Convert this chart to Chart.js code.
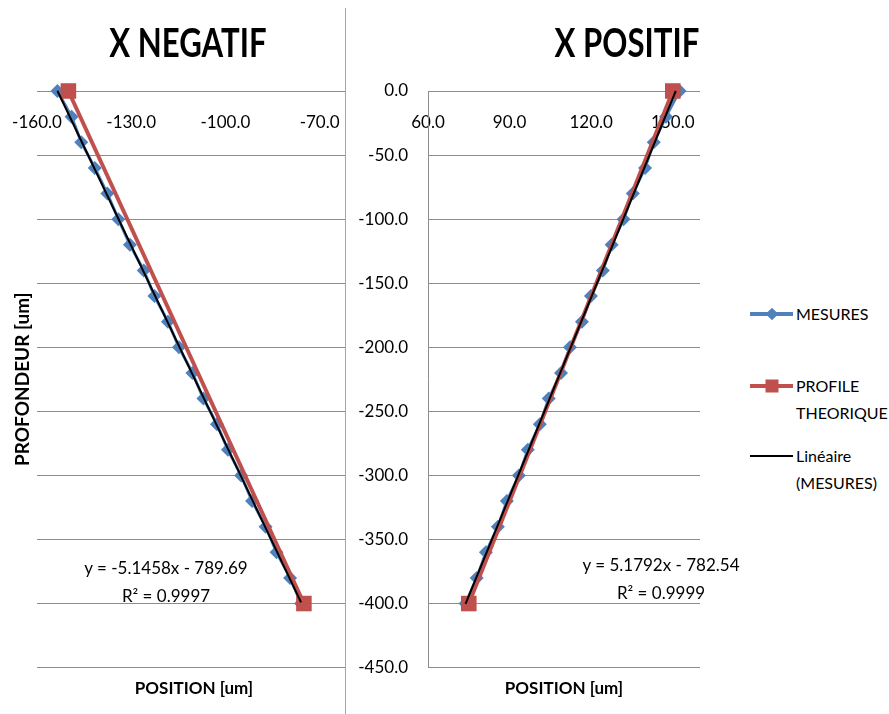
<!DOCTYPE html>
<html>
<head>
<meta charset="utf-8">
<script src="https://cdn.jsdelivr.net/npm/chart.js@4.4.0/dist/chart.umd.min.js"></script>
<style>
  body { margin: 0; background: #fff; width: 889px; height: 714px; overflow: hidden; position: relative; font-family: Lato, sans-serif; }
  .wrap { position: absolute; top: 0; height: 714px; }
  #wrapL { left: 0; width: 351px; }
  #wrapR { left: 346px; width: 354px; background: #fff; }
  #sep { position: absolute; left: 345px; top: 8px; width: 1px; height: 706px; background: #a6a6a6; }
  .title { position: absolute; top: 18px; font-weight: bold; font-size: 41px; line-height: 48px; transform: translateX(-50%) scaleX(0.76); white-space: nowrap; }
  .eq { position: absolute; font-size: 17px; line-height: 28px; text-align: center; transform: translateX(-50%); white-space: nowrap; }
  #legend { position: absolute; left: 750px; top: 0; font-size: 16px; line-height: 27px; }
  .item { position: absolute; left: 0; display: flex; white-space: nowrap; }
  .icon { position: relative; width: 43px; height: 27px; margin-right: 3px; flex: none; }
  .icon .ln { position: absolute; left: 0; width: 43px; }
  .icon .mk { position: absolute; left: 50%; top: 50%; }
</style>
</head>
<body>
<div id="wrapL" class="wrap"><canvas id="chartL"></canvas></div>
<div id="wrapR" class="wrap"><canvas id="chartR"></canvas></div>
<div id="sep"></div>
<div class="title" style="left:188px">X NEGATIF</div>
<div class="title" style="left:627px">X POSITIF</div>
<div class="eq" style="left:166px;top:554px">y = -5.1458x - 789.69<br>R² = 0.9997</div>
<div class="eq" style="left:661px;top:551px">y = 5.1792x - 782.54<br>R² = 0.9999</div>
<div id="legend"></div>

<script>
// depth of each measurement (um)
const depth = [0, -20, -40, -60, -80, -100, -120, -140, -160, -180, -200,
               -220, -240, -260, -280, -300, -320, -340, -360, -380, -400];

// measured positions, negative side and positive side
const mesNeg = [-153.5, -149.0, -145.9, -141.6, -137.6, -134.1, -130.4, -126.0, -122.6, -118.3, -114.8,
                -110.5, -107.0, -102.7, -99.2, -95.0, -91.5, -87.2, -83.7, -79.4, -75.9];
const mesPos = [152.5, 147.5, 143.0, 139.8, 135.3, 131.9, 127.5, 124.3, 119.9, 116.6, 112.2,
                108.9, 104.4, 101.1, 96.7, 93.4, 89.0, 85.7, 81.3, 77.9, 73.8];

// theoretical profile (x, depth)
const theoNegX = [-150, -75];
const theoPosX = [150, 75];
const theoY = [0, -400];

// linear trend of the measures (x, depth)
const trendNegX = [-153.5, -75.9];
const trendNegY = [0.2, -399.1];
const trendPosX = [151.1, 73.8];
const trendPosY = [0.0, -400.3];

// axis ticks
const xTicksNeg = [-160, -130, -100, -70];
const xTicksPos = [60, 90, 120, 150];
const yTicks = [0, -50, -100, -150, -200, -250, -300, -350, -400, -450];

const BLUE = '#4f81bd';
const RED = '#c0504d';
const GRID = '#8c8c8c';

Chart.defaults.font.family = 'Lato, sans-serif';
Chart.defaults.color = '#000';

function pts(xs, ys) {
    return xs.map((x, i) => ({ x: x, y: ys[i] }));
}

function makeDatasets(mes, theoX, trendX, trendY) {
    return [
        {
            label: 'MESURES',
            data: pts(mes, depth),
            showLine: true,
            borderColor: BLUE,
            backgroundColor: BLUE,
            borderWidth: 3,
            pointStyle: 'rectRot',
            pointRadius: 7,
            pointBorderWidth: 0,
            order: 3,
            clip: false
        },
        {
            label: 'PROFILE THEORIQUE',
            data: pts(theoX, theoY),
            showLine: true,
            borderColor: RED,
            backgroundColor: RED,
            borderWidth: 4,
            pointStyle: 'rect',
            pointRadius: 11,
            pointBorderWidth: 0,
            order: 2,
            clip: false
        },
        {
            label: 'Linéaire (MESURES)',
            data: pts(trendX, trendY),
            showLine: true,
            borderColor: '#000',
            borderWidth: 2,
            pointRadius: 0,
            order: 1,
            clip: false
        }
    ];
}

function setTicks(values, min, max) {
    return s => {
        s.min = min;
        s.max = max;
        s.ticks = values.map(v => ({ value: v }));
    };
}

// x axis crosses the y axis at 0 (top of plot), labels below the line
function xAxis(values, min, max) {
    return {
        type: 'linear',
        position: { y: 0 },
        bounds: 'data',
        min: min,
        max: max,
        afterBuildTicks: setTicks(values, min, max),
        ticks: {
            padding: 21,
            maxRotation: 0,
            autoSkip: false,
            font: { size: 17 },
            callback: v => v.toFixed(1)
        },
        grid: { display: false, drawTicks: false },
        border: { display: true, color: GRID, width: 1 },
        afterFit: s => {
            s.height = 0;
            s.paddingLeft = 0;
            s.paddingRight = 0;
        }
    };
}

function yAxis(showLabels, width) {
    return {
        min: -450,
        max: 0,
        bounds: 'data',
        afterBuildTicks: setTicks(yTicks, -450, 0),
        ticks: { display: showLabels, padding: 20, font: { size: 17 }, callback: v => v.toFixed(1) },
        grid: { color: GRID, drawTicks: false },
        border: { display: showLabels, color: GRID },
        afterFit: s => { s.width = width; }
    };
}

function commonPlugins() {
    return {
        legend: { display: false },
        tooltip: { enabled: false },
        subtitle: {
            display: true,
            position: 'bottom',
            fullSize: false,
            text: 'POSITION [um]',
            color: '#000',
            font: { size: 17, weight: 'bold' },
            padding: { top: 11, bottom: 15 }
        }
    };
}

const yLeft = yAxis(false, 37);
yLeft.title = {
    display: true,
    text: 'PROFONDEUR [um]',
    color: '#000',
    font: { size: 19, weight: 'bold' },
    padding: { top: 11, bottom: 0 }
};

new Chart(document.getElementById('chartL'), {
    type: 'scatter',
    data: { datasets: makeDatasets(mesNeg, theoNegX, trendNegX, trendNegY) },
    options: {
        responsive: true,
        maintainAspectRatio: false,
        animation: false,
        layout: { autoPadding: false, padding: { top: 91, left: 0, right: 0, bottom: 0 } },
        scales: { x: xAxis(xTicksNeg, -160, -60), y: yLeft },
        plugins: commonPlugins()
    }
});

const chartR = new Chart(document.getElementById('chartR'), {
    type: 'scatter',
    data: { datasets: makeDatasets(mesPos, theoPosX, trendPosX, trendPosY) },
    options: {
        responsive: true,
        maintainAspectRatio: false,
        animation: false,
        layout: { autoPadding: false, padding: { top: 91, left: 0, right: 0, bottom: 0 } },
        scales: { x: xAxis(xTicksPos, 60, 160), y: yAxis(true, 82) },
        plugins: commonPlugins()
    }
});

// html legend built from the right chart's datasets
const legend = document.getElementById('legend');
const legendTops = [300, 372, 442];
const legendText = [['MESURES'], ['PROFILE', 'THEORIQUE'], ['Linéaire', '(MESURES)']];
chartR.data.datasets.forEach((ds, i) => {
    const item = document.createElement('div');
    item.className = 'item';
    item.style.top = legendTops[i] + 'px';
    const icon = document.createElement('div');
    icon.className = 'icon';
    const ln = document.createElement('div');
    ln.className = 'ln';
    const lw = ds.borderWidth === 3 ? 4 : ds.borderWidth;
    ln.style.height = lw + 'px';
    ln.style.top = (13.5 - lw / 2) + 'px';
    ln.style.background = ds.borderColor;
    icon.appendChild(ln);
    if (ds.pointRadius > 0) {
        const mk = document.createElement('div');
        mk.className = 'mk';
        const side = ds.pointStyle === 'rect' ? 13 : 9;
        mk.style.width = side + 'px';
        mk.style.height = side + 'px';
        mk.style.background = ds.backgroundColor;
        mk.style.transform = 'translate(-50%,-50%)' + (ds.pointStyle === 'rectRot' ? ' rotate(45deg)' : '');
        icon.appendChild(mk);
    }
    item.appendChild(icon);
    const txt = document.createElement('div');
    txt.innerHTML = legendText[i].join('<br>');
    item.appendChild(txt);
    legend.appendChild(item);
});
</script>
</body>
</html>
